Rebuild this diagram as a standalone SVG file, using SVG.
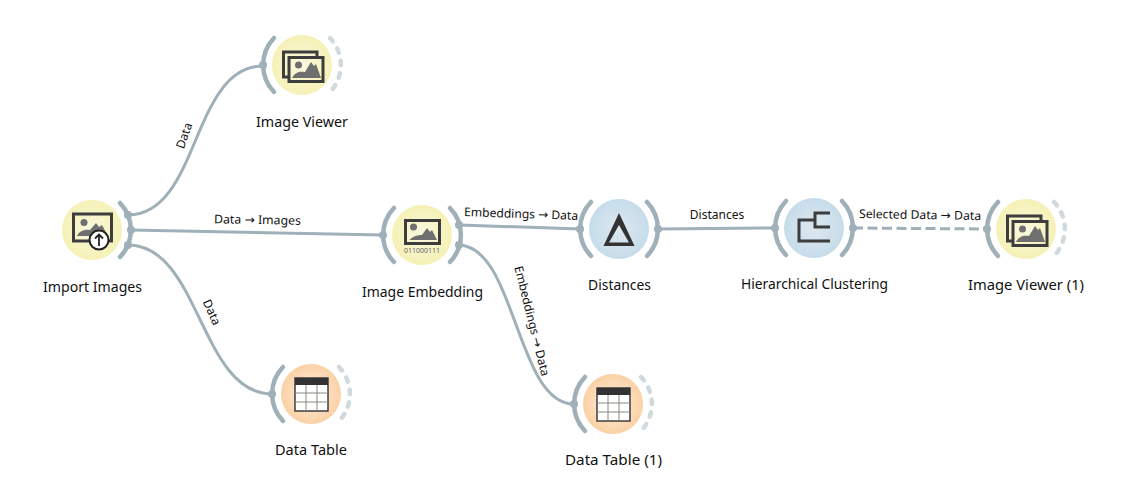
<svg xmlns="http://www.w3.org/2000/svg" xmlns:xlink="http://www.w3.org/1999/xlink" width="1121" height="485" viewBox="0 0 1121 485">
<style>
text{font-family:"Noto Sans","DejaVu Sans",sans-serif;fill:#111}
.t{font-size:14px;text-anchor:middle}
.l{font-size:12px;text-anchor:middle}
.c{fill:none;stroke:#9fb0b9;stroke-width:3}
.a{fill:none;stroke:#9fb0b9;stroke-width:4.5;stroke-linecap:round}
.d{fill:none;stroke:#d0d9de;stroke-width:4.5;stroke-linecap:round;stroke-dasharray:4.5 8.2}
.p{fill:#9fb0b9}
.i{fill:none;stroke:#3d3d3d;stroke-width:3}
.m{fill:#706f6f}
</style>
<defs>
<radialGradient id="y"><stop offset="0" stop-color="#faf8e0"/><stop offset="1" stop-color="#f5f1b5"/></radialGradient>
<radialGradient id="b"><stop offset="0" stop-color="#dde8f0"/><stop offset="1" stop-color="#c6dcea"/></radialGradient>
<radialGradient id="o"><stop offset="0" stop-color="#fdeedb"/><stop offset="1" stop-color="#fbd1a6"/></radialGradient>
<path id="la" class="a" d="M-28,-27 A39,39 0 0 0 -28,27"/>
<path id="ra" class="a" d="M28,-27 A39,39 0 0 1 28,27"/>
<path id="rd" class="d" d="M28,-27 A39,39 0 0 1 28,27"/>
<g id="viewer">
<path class="i" d="M-13,12 H-18.500 V-13 H15 V-9"/>
<rect class="i" x="-13" y="-7.500" width="34" height="24" fill="#f7f4c8"/>
<circle class="m" cx="-3.500" cy="0" r="3.500"/>
<path class="m" d="M-10,13 C-7,7 -2,6 3,7 L9,-3 L12,1 L14,-1 L19,13 Z"/>
</g>
<g id="table">
<rect x="-16" y="-16" width="33" height="33" fill="#fff" stroke="#3d3d3d" stroke-width="1.500"/>
<rect x="-16" y="-16" width="33" height="7" fill="#333"/>
<path d="M-5,-9 V17 M6,-9 V17 M-16,-1 H17 M-16,8 H17" stroke="#8a8a80" stroke-width="1" fill="none"/>
</g>
</defs>

<g id="connectors">
<path class="c" d="M128,215 C200,215 191,66 263,66"/>
<path class="c" d="M131,230 L383,235"/>
<path class="c" d="M128,245 C200,245 200,394 272,394"/>
<path class="c" d="M459,225 L580,229"/>
<path class="c" d="M458,245 C516,245 516,404 574,404"/>
<path class="c" d="M658,229 L775,228"/>
<path class="c" d="M853,228 L987,229" stroke-dasharray="10 4.500"/>
<text class="l" transform="translate(188,137) rotate(-71)">Data</text>
<text class="l" transform="translate(208,314) rotate(66)">Data</text>
<text class="l" x="257.500" y="224" transform="rotate(1 257 220)" textLength="87" lengthAdjust="spacingAndGlyphs">Data → Images</text>
<text class="l" transform="translate(521,218) rotate(2)" textLength="114" lengthAdjust="spacingAndGlyphs">Embeddings → Data</text>
<text class="l" transform="translate(528,322) rotate(76)" textLength="113" lengthAdjust="spacingAndGlyphs">Embeddings → Data</text>
<text class="l" x="717" y="219">Distances</text>
<text class="l" transform="translate(920,219) rotate(1)" textLength="122" lengthAdjust="spacingAndGlyphs">Selected Data → Data</text>
</g>

<g id="import-images" transform="translate(92,230)">
<circle r="30" fill="url(#y)"/>
<use xlink:href="#ra" href="#ra"/>
<circle class="p" cx="36" cy="-15" r="4"/><circle class="p" cx="39" cy="0" r="4"/><circle class="p" cx="36" cy="15" r="4"/>
<rect class="i" x="-18.500" y="-16" width="38" height="27"/>
<circle class="m" cx="-8" cy="-7.500" r="3.500"/>
<path class="m" d="M-15,6 C-13,1 -7,-1 -2,0 L4,-7 L7,-3 L10,-5 L16,6 Z"/>
<circle cx="7" cy="10" r="9.500" fill="#fff" stroke="#222" stroke-width="2"/>
<path d="M7,16 V5 M3,8.500 L7,4.500 L11,8.500" fill="none" stroke="#222" stroke-width="1.800"/>
<text class="t" x="0.500" y="62" textLength="99" lengthAdjust="spacingAndGlyphs">Import Images</text>
</g>

<g id="image-viewer" transform="translate(302,65)">
<circle r="30" fill="url(#y)"/>
<use xlink:href="#la" href="#la"/><use xlink:href="#rd" href="#rd"/>
<circle class="p" cx="-39" cy="0" r="4"/>
<use xlink:href="#viewer" href="#viewer"/>
<text class="t" x="0" y="62" textLength="92" lengthAdjust="spacingAndGlyphs">Image Viewer</text>
</g>

<g id="data-table" transform="translate(311,394)">
<circle r="30" fill="url(#o)"/>
<use xlink:href="#la" href="#la"/><use xlink:href="#rd" href="#rd"/>
<circle class="p" cx="-39" cy="0" r="4"/>
<use xlink:href="#table" href="#table"/>
<text class="t" x="0" y="61" textLength="72" lengthAdjust="spacingAndGlyphs">Data Table</text>
</g>

<g id="image-embedding" transform="translate(422,235)">
<circle r="30" fill="url(#y)"/>
<use xlink:href="#la" href="#la"/><use xlink:href="#ra" href="#ra"/>
<circle class="p" cx="-39" cy="0" r="4"/><circle class="p" cx="37" cy="-10" r="4"/><circle class="p" cx="37" cy="10" r="4"/>
<rect class="i" x="-16.500" y="-14.500" width="34" height="23"/>
<circle class="m" cx="-8.500" cy="-8" r="3.500"/>
<path class="m" d="M-12.500,5 C-9,1 -4,0 0,0 L5,-7 L8,-3 L10,-5 L15,5 Z"/>
<text x="0" y="18" text-anchor="middle" style="font-size:7px;fill:#666">011000111</text>
<text class="t" x="0.500" y="62" textLength="121" lengthAdjust="spacingAndGlyphs">Image Embedding</text>
</g>

<g id="distances" transform="translate(619,229)">
<circle r="30" fill="url(#b)"/>
<use xlink:href="#la" href="#la"/><use xlink:href="#ra" href="#ra"/>
<circle class="p" cx="-39" cy="0" r="4"/><circle class="p" cx="39" cy="0" r="4"/>
<path fill="#333" fill-rule="evenodd" d="M0,-16 L15.500,17 H-15.500 Z M0,-4 L-10,13.500 H10 Z"/>
<text class="t" x="0.500" y="61" textLength="63" lengthAdjust="spacingAndGlyphs">Distances</text>
</g>

<g id="hierarchical-clustering" transform="translate(814,228)">
<circle r="30" fill="url(#b)"/>
<use xlink:href="#la" href="#la"/><use xlink:href="#ra" href="#ra"/>
<circle class="p" cx="-39" cy="0" r="4"/><circle class="p" cx="39" cy="0" r="4"/>
<path class="i" stroke-width="3.500" d="M16,-15 H1 V-1 H16 M1,-8 H-15 V13 H16"/>
<text class="t" x="0.500" y="61" textLength="147" lengthAdjust="spacingAndGlyphs">Hierarchical Clustering</text>
</g>

<g id="image-viewer-1" transform="translate(1026,229)">
<circle r="30" fill="url(#y)"/>
<use xlink:href="#la" href="#la"/><use xlink:href="#rd" href="#rd"/>
<circle class="p" cx="-39" cy="0" r="4"/>
<use xlink:href="#viewer" href="#viewer"/>
<text class="t" x="0" y="61" textLength="116" lengthAdjust="spacingAndGlyphs">Image Viewer (1)</text>
</g>

<g id="data-table-1" transform="translate(613,404)">
<circle r="30" fill="url(#o)"/>
<use xlink:href="#la" href="#la"/><use xlink:href="#rd" href="#rd"/>
<circle class="p" cx="-39" cy="0" r="4"/>
<use xlink:href="#table" href="#table"/>
<text class="t" x="0.500" y="61" textLength="97" lengthAdjust="spacingAndGlyphs">Data Table (1)</text>
</g>
</svg>
